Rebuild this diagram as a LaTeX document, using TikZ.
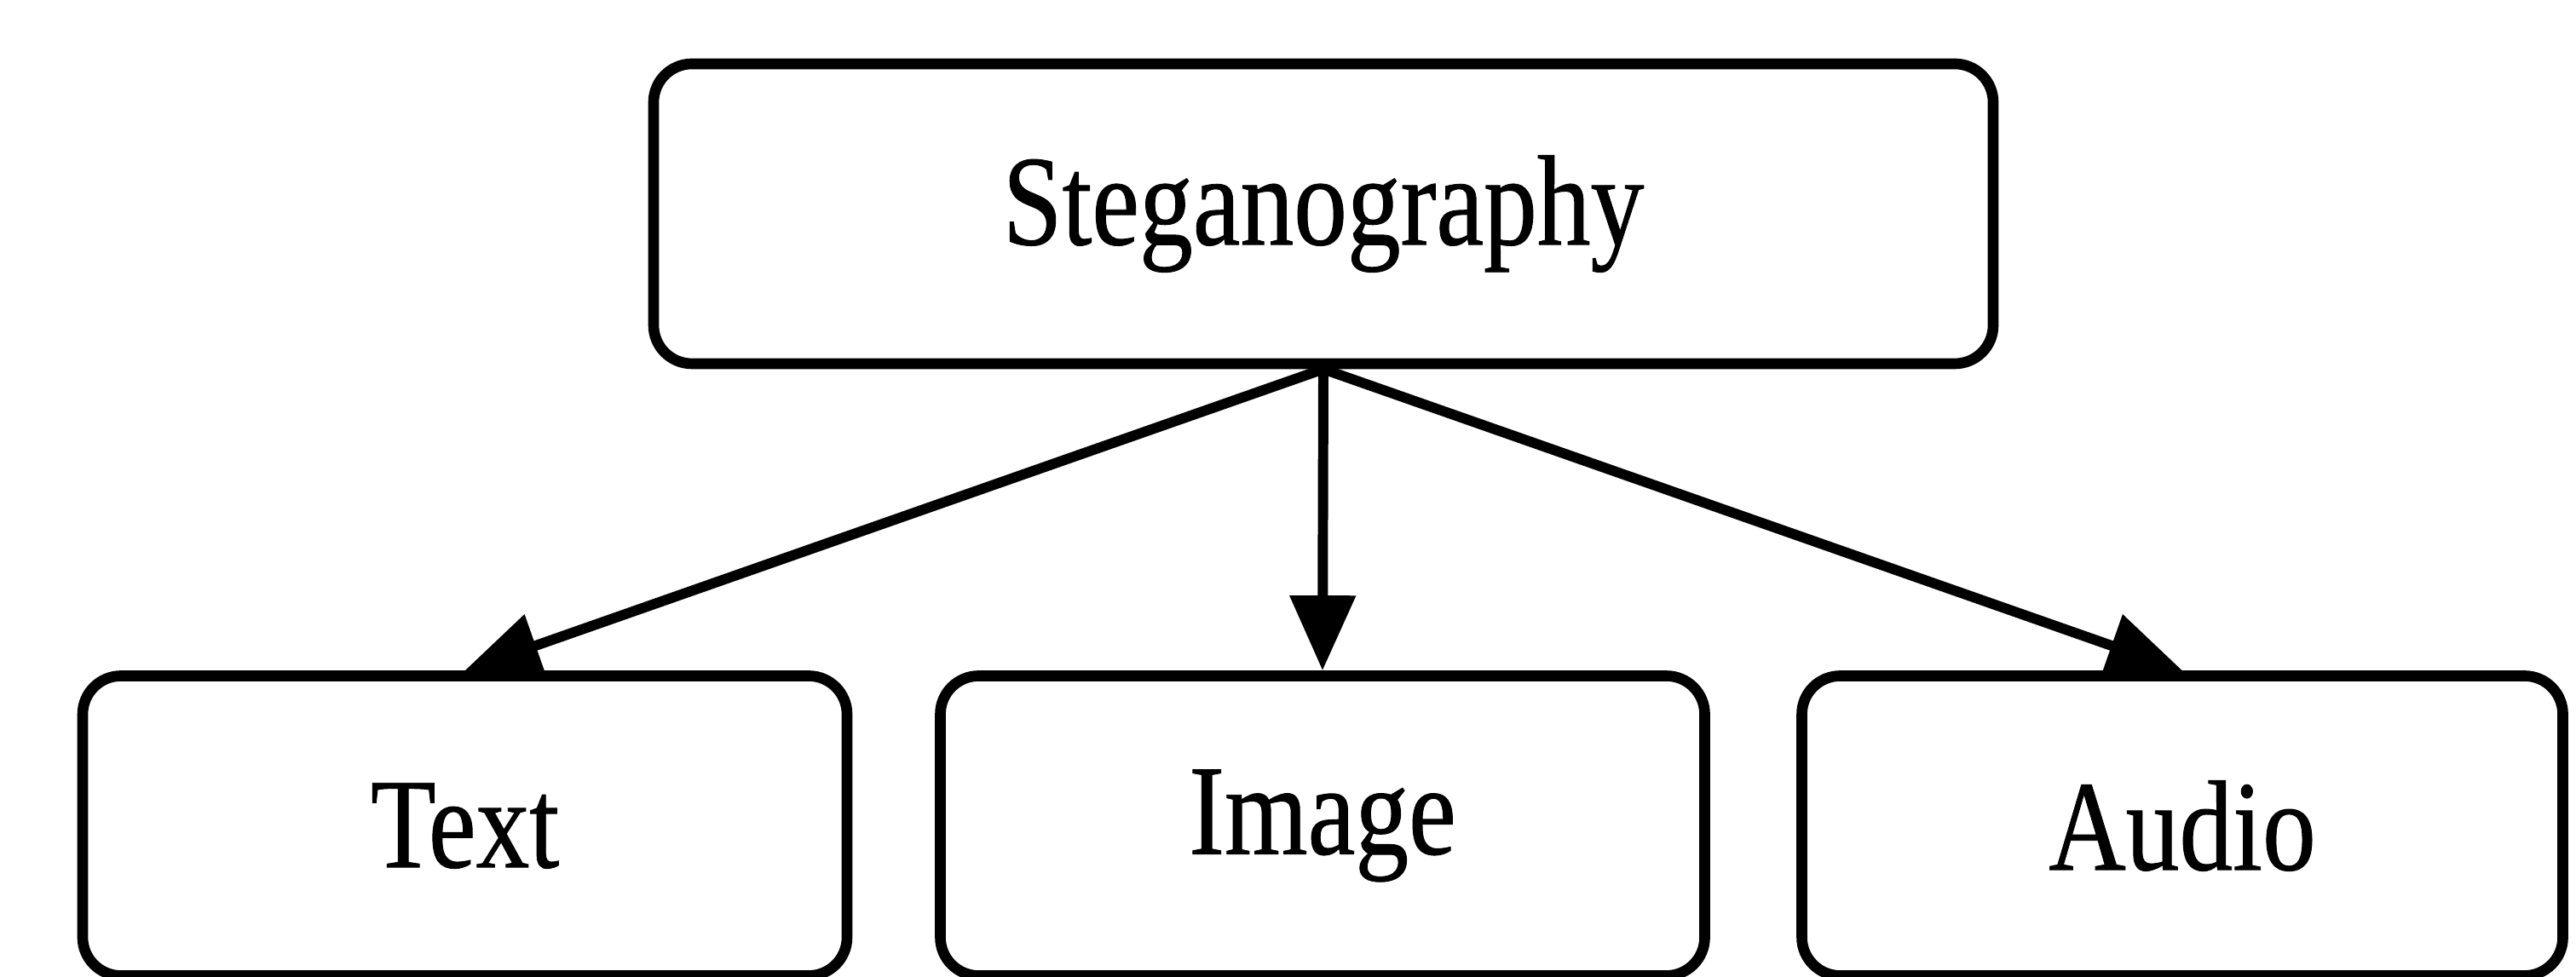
\documentclass[tikz,border=0pt]{standalone}
\usepackage{fontspec}
\setmainfont{Liberation Serif}[FakeStretch=0.83, FakeBold=0.6]
\usetikzlibrary{arrows.meta}

\begin{document}
\begin{tikzpicture}[
    box/.style={rectangle, rounded corners=0.45cm, draw=black, line width=3.6pt,
        fill=white, minimum height=3.52cm, inner sep=0pt,
        font=\fontsize{43}{50}\selectfont},
    link/.style={line width=3.4pt, -{Triangle[length=0.88cm, width=0.75cm]}}
]
    \useasboundingbox (0,0) rectangle (30.23,11.47);
    \node[box, minimum width=15.72cm] (steg) at (15.53,8.96) {\raisebox{-0.12cm}{Steganography}};
    \node[box, minimum width=8.97cm] (text) at (5.455,1.775) {Text};
    \node[box, minimum width=8.97cm] (image) at (15.52,1.775) {Image};
    \node[box, minimum width=8.93cm] (audio) at (25.61,1.775) {Audio};
    \draw[link] (steg.south) -- (text.north);
    \draw[link] (steg.south) -- (image.north);
    \draw[link] (steg.south) -- (audio.north);
\end{tikzpicture}
\end{document}
